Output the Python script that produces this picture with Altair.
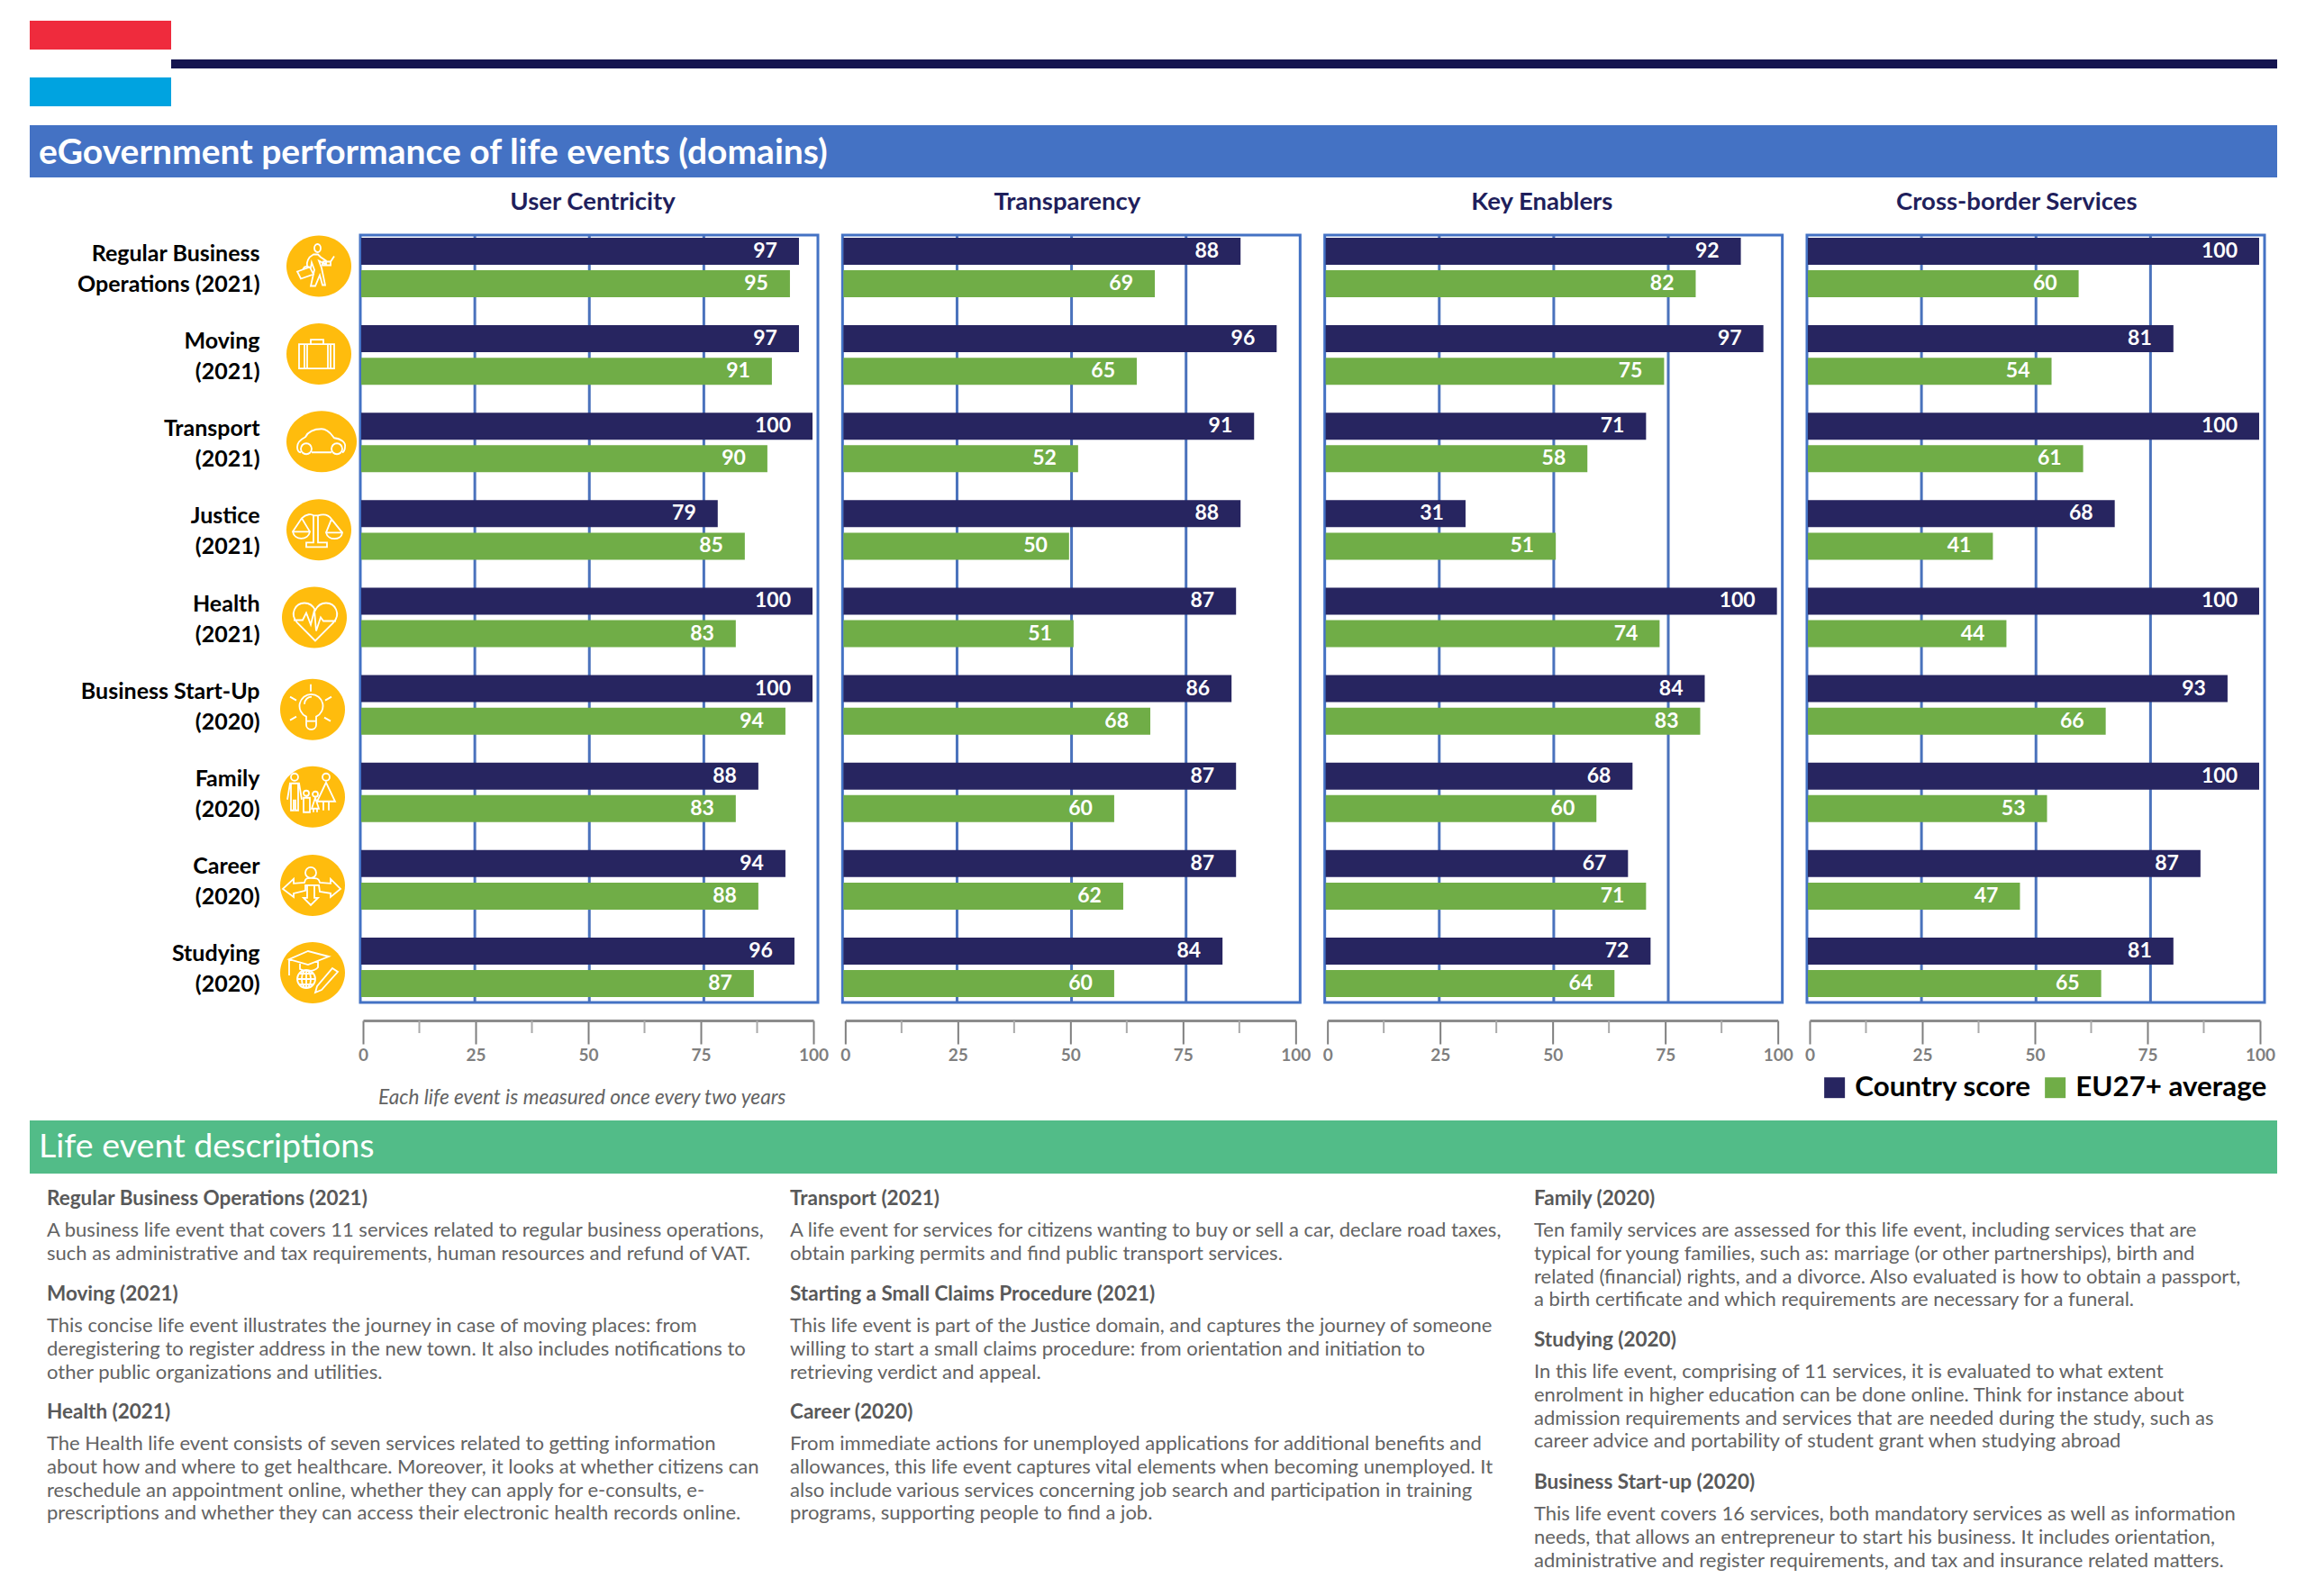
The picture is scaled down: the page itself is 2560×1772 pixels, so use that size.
import altair as alt
import pandas as pd

rows = ["Regular Business|Operations (2021)", "Moving|(2021)", "Transport|(2021)", "Justice|(2021)",
        "Health|(2021)", "Business Start-Up|(2020)", "Family|(2020)", "Career|(2020)", "Studying|(2020)"]
series = ["Country score", "EU27+ average"]
domains = ["User Centricity", "Transparency", "Key Enablers", "Cross-border Services"]
country = {
    "User Centricity": [97, 97, 100, 79, 100, 100, 88, 94, 96],
    "Transparency": [88, 96, 91, 88, 87, 86, 87, 87, 84],
    "Key Enablers": [92, 97, 71, 31, 100, 84, 68, 67, 72],
    "Cross-border Services": [100, 81, 100, 68, 100, 93, 100, 87, 81],
}
eu_avg = {
    "User Centricity": [95, 91, 90, 85, 83, 94, 83, 88, 87],
    "Transparency": [69, 65, 52, 50, 51, 68, 60, 62, 60],
    "Key Enablers": [82, 75, 58, 51, 74, 83, 60, 71, 64],
    "Cross-border Services": [60, 54, 61, 41, 44, 66, 53, 47, 65],
}
major_ticks = [0, 25, 50, 75, 100]
minor_ticks = [12.5, 37.5, 62.5, 87.5]
grid_lines = [25, 50, 75]

TITLE = "eGovernment performance of life events (domains)"
DESC_TITLE = "Life event descriptions"
NOTE = "Each life event is measured once every two years"

desc_blocks = [
    (52, 1331, "Regular Business Operations (2021)", ["A business life event that covers 11 services related to regular business operations,", "such as administrative and tax requirements, human resources and refund of VAT."]),
    (52, 1437, "Moving (2021)", ["This concise life event illustrates the journey in case of moving places: from", "deregistering to register address in the new town. It also includes notifications to", "other public organizations and utilities."]),
    (52, 1568, "Health (2021)", ["The Health life event consists of seven services related to getting information", "about how and where to get healthcare. Moreover, it looks at whether citizens can", "reschedule an appointment online, whether they can apply for e-consults, e-", "prescriptions and whether they can access their electronic health records online."]),
    (877, 1331, "Transport (2021)", ["A life event for services for citizens wanting to buy or sell a car, declare road taxes,", "obtain parking permits and find public transport services."]),
    (877, 1437, "Starting a Small Claims Procedure (2021)", ["This life event is part of the Justice domain, and captures the journey of someone", "willing to start a small claims procedure: from orientation and initiation to", "retrieving verdict and appeal."]),
    (877, 1568, "Career (2020)", ["From immediate actions for unemployed applications for additional benefits and", "allowances, this life event captures vital elements when becoming unemployed. It", "also include various services concerning job search and participation in training", "programs, supporting people to find a job."]),
    (1703, 1331, "Family (2020)", ["Ten family services are assessed for this life event, including services that are", "typical for young families, such as: marriage (or other partnerships), birth and", "related (financial) rights, and a divorce. Also evaluated is how to obtain a passport,", "a birth certificate and which requirements are necessary for a funeral."]),
    (1703, 1488, "Studying (2020)", ["In this life event, comprising of 11 services, it is evaluated to what extent", "enrolment in higher education can be done online. Think for instance about", "admission requirements and services that are needed during the study, such as", "career advice and portability of student grant when studying abroad"]),
    (1703, 1646, "Business Start-up  (2020)", ["This life event covers 16 services, both mandatory services as well as information", "needs, that allows an entrepreneur to start his business. It includes orientation,", "administrative and register requirements, and tax and insurance related matters."]),
]

ICONS = {
    0: (354, -1.5, "M-5,-20a3.5,4.5 0 1,1 7,0a3.5,4.5 0 1,1 -7,0Z M-6,-13 C-12,-10 -14,-4 -13,0 L-9,2 L-8,-4 L-5,4 L-9,22 L-4,22 L1,10 L4,21 L7,21 L3,2 L0,-6 L8,-2 L8,-6 L2,-10 L-1,-13Z M4,-5 L13,-5 L17,-11 M4,-5 L4,-1 L13,-1 L13,-5 M-24,6 L-10,1 L-6,9 L-20,14Z M-18,4 L-16,1 L-13,0 L-12,2"),
    1: (354, -1, "M-22,-11H17V16H-22Z M-9,-11V-16H5V-11 M-16,-11V16 M-13,-11V16 M10,-11V16 M13,-11V16"),
    2: (357, -1, "M-27,6 C-27,0 -22,-3 -18,-5 C-14,-13 -6,-14 0,-14 C8,-14 12,-6 14,-4 C22,-3 27,1 26,6 C26,10 24,12 23,12 M11,12 H-11 M-23,12 C-26,12 -27,9 -27,6 M-23,8a6,6 0 1,0 12,0a6,6 0 1,0 -12,0Z M11,8a6,6 0 1,0 12,0a6,6 0 1,0 -12,0Z"),
    3: (354, 0, "M-29,2 H-10 C-12,12 -27,12 -29,2Z M8,3 H26 C25,12 10,12 8,3Z M-29,2 L-19,-13 C-14,-18 -8,-18 -6,-16 M-19,-13 L-10,2 M-1,-16 C8,-19 12,-15 14,-12 L26,3 M14,-12 L8,3 M-6,-16 V14 H-14 V19 H9 V14 H-1 V-16Z"),
    4: (349, 0, "M1,26 L-19,6 C-28,-4 -21,-16 -11,-16 C-5,-16 -1,-12 1,-8 C3,-12 7,-16 13,-16 C23,-16 30,-4 21,6Z M-23,3 H-13 L-9,-5 L-4,8 L0,-8 L2,15 L7,0 L10,4 H24"),
    5: (347, 5, "M-2,-28V-20 M-25,-14L-18,-10 M21,-14L14,-10 M-25,12L-18,8 M20,13L13,9 M-7,8 A13,13 0 1,1 4,8 V17 C4,24 -7,24 -7,17Z M-7,13 H4 M-9,-6 C-9,-11 -5,-14 -1,-14"),
    6: (347, 5, "M-24,-22a4,4 0 1,0 8,0a4,4 0 1,0 -8,0Z M-28,3 L-25,-15 H-15 L-12,3 M-24,-15 V15 H-21 V3 M-19,3 V15 H-16 V-15 M11,-22a4,4 0 1,0 8,0a4,4 0 1,0 -8,0Z M15,-16 L5,5 H25Z M12,5 V15 M18,5 V15 M-10,-4a3,3 0 1,0 6,0a3,3 0 1,0 -6,0Z M-10,1 H-3 V17 H-10Z M0,-3a3,3 0 1,0 6,0a3,3 0 1,0 -6,0Z M3,1 L-1,13 H7Z M1,13 V17 M5,13 V17"),
    7: (347, 6, "M-8,-14a6,6 0 1,0 12,0a6,6 0 1,0 -12,0Z M-33,4 L-21,-7 V-2 L-9,-3 C-8,-8 -6,-8 -2,-8 C4,-8 7,-8 8,-3 L20,-2 V-7 L31,4 L20,13 L20,9 L8,7 L7,0 H-8 V6 L-21,9 V13Z M-6,0 V14 H-10 L-2,22 L6,14 H2 V0"),
    8: (347, 6, "M-26,-15 L-5,-24 L18,-18 L-5,-9Z M-26,-15 V3 M-14,-12 V-4 C-8,-1 2,-1 6,-6 V-13 M-17,7a10,10 0 1,0 20,0a10,10 0 1,0 -20,0Z M-12,7a5,10 0 1,0 10,0a5,10 0 1,0 -10,0Z M-17,7H3 M-7,-3V17 M-15,1H1 M-15,13H1 M22,-5 L28,-1 L10,19 L3,22 L5,15Z"),
}

FONT = "Lato"
BLUE = "#4472C4"
DARK = "#272560"
GREEN = "#70AD47"
GRID = "#4A72BC"
W = 508
H = 852

one = alt.Data(values=[{"k": 1}])


def px(x):
    return x - 400


def py(y):
    return y - 261


def block(x0, y0, x1, y1, color, opacity=1):
    return alt.Chart(one).mark_rect(color=color, opacity=opacity).encode(
        x=alt.value(px(x0)), x2=alt.value(px(x1)), y=alt.value(py(y0)), y2=alt.value(py(y1)))


def label(text, x, y, size, color, weight="normal", style="normal", align="left", font=FONT):
    return alt.Chart(one).mark_text(
        font=font, fontSize=size, color=color, fontWeight=weight, fontStyle=style,
        align=align, baseline="middle"
    ).encode(x=alt.value(px(x)), y=alt.value(py(y)), text=alt.value(text))


def para(lines, x, y):
    return alt.Chart(alt.Data(values=[{"t": "\n".join(lines)}])).mark_text(
        font=FONT, fontSize=22, color="#636363", align="left", baseline="top",
        lineBreak="\n", lineHeight=25.8
    ).encode(x=alt.value(px(x)), y=alt.value(py(y)), text="t:N")


y_scale = alt.Scale(domain=rows, range=[2, 847], paddingInner=0.3, paddingOuter=0)
off_scale = alt.Scale(domain=series, paddingInner=0.118, paddingOuter=0)
bar_x = alt.Scale(domain=[0, 100], range=[1, 502])


def panel(idx, name):
    frame = []
    for r, (a, b) in enumerate(zip(country[name], eu_avg[name])):
        frame.append({"row": rows[r], "series": series[0], "value": a})
        frame.append({"row": rows[r], "series": series[1], "value": b})
    df = pd.DataFrame(frame)

    if idx == 0:
        y_axis = alt.Axis(title=None, ticks=False, domain=False, labelPadding=112, labelOffset=-15,
                          labelExpr="split(datum.label, '|')", labelFont=FONT, labelFontSize=25,
                          labelFontWeight="bold", labelColor="black", labelLineHeight=34, labelLimit=400,
                          labelAlign="right", labelBaseline="middle")
    else:
        y_axis = None
    y_enc = alt.Y("row:N", scale=y_scale, axis=y_axis, sort=rows)
    off_enc = alt.YOffset("series:N", scale=off_scale, sort=series)

    legend = None
    if idx == 3:
        legend = alt.Legend(title=None, orient="none", legendX=15, legendY=931, direction="horizontal",
                            columns=2, symbolType="square", symbolSize=529, symbolStrokeWidth=0,
                            labelFont=FONT, labelFontSize=31.3, labelFontWeight="bold", labelColor="black",
                            labelOffset=7, columnPadding=11, padding=0, labelLimit=400)

    grid = alt.Chart(pd.DataFrame({"g": grid_lines})).mark_rule(color=GRID, strokeWidth=3).encode(
        x=alt.X("g:Q", scale=alt.Scale(domain=[0, 100], range=[0, W + 0.5]), axis=None))
    bars = alt.Chart(df).mark_bar(size=30).encode(
        x=alt.X("value:Q", scale=bar_x, axis=None),
        y=y_enc, yOffset=off_enc,
        color=alt.Color("series:N", scale=alt.Scale(domain=series, range=[DARK, GREEN]), legend=legend),
    )
    text = alt.Chart(df).mark_text(
        font=FONT, fontSize=23, fontWeight="bold", color="white", align="right", dx=-24, baseline="middle"
    ).encode(
        x=alt.X("value:Q", scale=bar_x, axis=None),
        y=y_enc, yOffset=off_enc, text="value:Q",
    )
    minor = alt.Chart(pd.DataFrame({"m": minor_ticks})).mark_rule(color="#A9A9A9", strokeWidth=2).encode(
        x=alt.X("m:Q", scale=alt.Scale(domain=[0, 100], range=[3, 503]),
                axis=alt.Axis(values=major_ticks, orient="bottom", offset=20, title=None, grid=False,
                              tickSize=26, tickWidth=2, tickColor="#7F7F7F", domainColor="#8C8C8C", domainWidth=3,
                              labelFont=FONT, labelFontSize=19, labelFontWeight="bold", labelColor="#7F7F7F",
                              labelPadding=3, labelFlush=False, labelOverlap=False, format="d")),
        y=alt.value(H + 20), y2=alt.value(H + 34),
    )
    title = label(name, 0, 0, 27.5, "#1F1F5C", "bold", align="center").encode(
        x=alt.value(258 - 8.4 * idx), y=alt.value(-36))

    layers = [grid, bars, text, minor, title]

    if idx == 0:
        page = [
            block(10, 9.5, 2535, 1755, "white", opacity=0),
            block(33, 23, 190, 55, "#EF2B3D"),
            block(33, 86, 190, 118, "#00A3E0"),
            block(190, 66, 2528, 76, "#14144F"),
            block(33, 139, 2528, 197, BLUE),
            label(TITLE, 43, 170, 39, "white", "bold"),
            block(33, 1244, 2528, 1303, "#52BC88"),
            label(DESC_TITLE, 43, 1274, 37.6, "white"),
            label(NOTE, 420, 1219, 22.6, "#636363", style="italic"),
        ]
        for x, y, head, body in desc_blocks:
            page.append(label(head, x, y, 22.5, "#595959", "bold"))
            page.append(para(body, x, y + 25))
        icons = []
        for i, (cx, dy, path) in ICONS.items():
            d = alt.Data(values=[{"row": rows[i]}])
            ellipse = "M-36,0A36,34 0 1,1 36,0A36,34 0 1,1 -36,0Z"
            if i == 2:
                ellipse = "M-39,0A39,34 0 1,1 39,0A39,34 0 1,1 -39,0Z"
            icons.append(alt.Chart(d).mark_point(
                shape=ellipse, size=4, filled=True, color="#FFBC0D", opacity=1, yOffset=dy, strokeWidth=0
            ).encode(x=alt.value(px(cx)), y=alt.Y("row:N", scale=y_scale, axis=y_axis, sort=rows)))
            icons.append(alt.Chart(d).mark_point(
                shape=path, size=4, filled=False, stroke="white", strokeWidth=1.8, opacity=1, yOffset=dy
            ).encode(x=alt.value(px(cx)), y=alt.Y("row:N", scale=y_scale, axis=y_axis, sort=rows)))
        layers = page + layers + icons

    return alt.layer(*layers).resolve_scale(x="independent").properties(width=W, height=H)


chart = alt.hconcat(*[panel(i, n) for i, n in enumerate(domains)]).properties(
    bounds="flush", spacing=27.33, padding=0
).resolve_scale(color="independent").configure_view(stroke=BLUE, strokeWidth=3)

chart.save("out.html", embed_options={"renderer": "svg", "actions": False})
